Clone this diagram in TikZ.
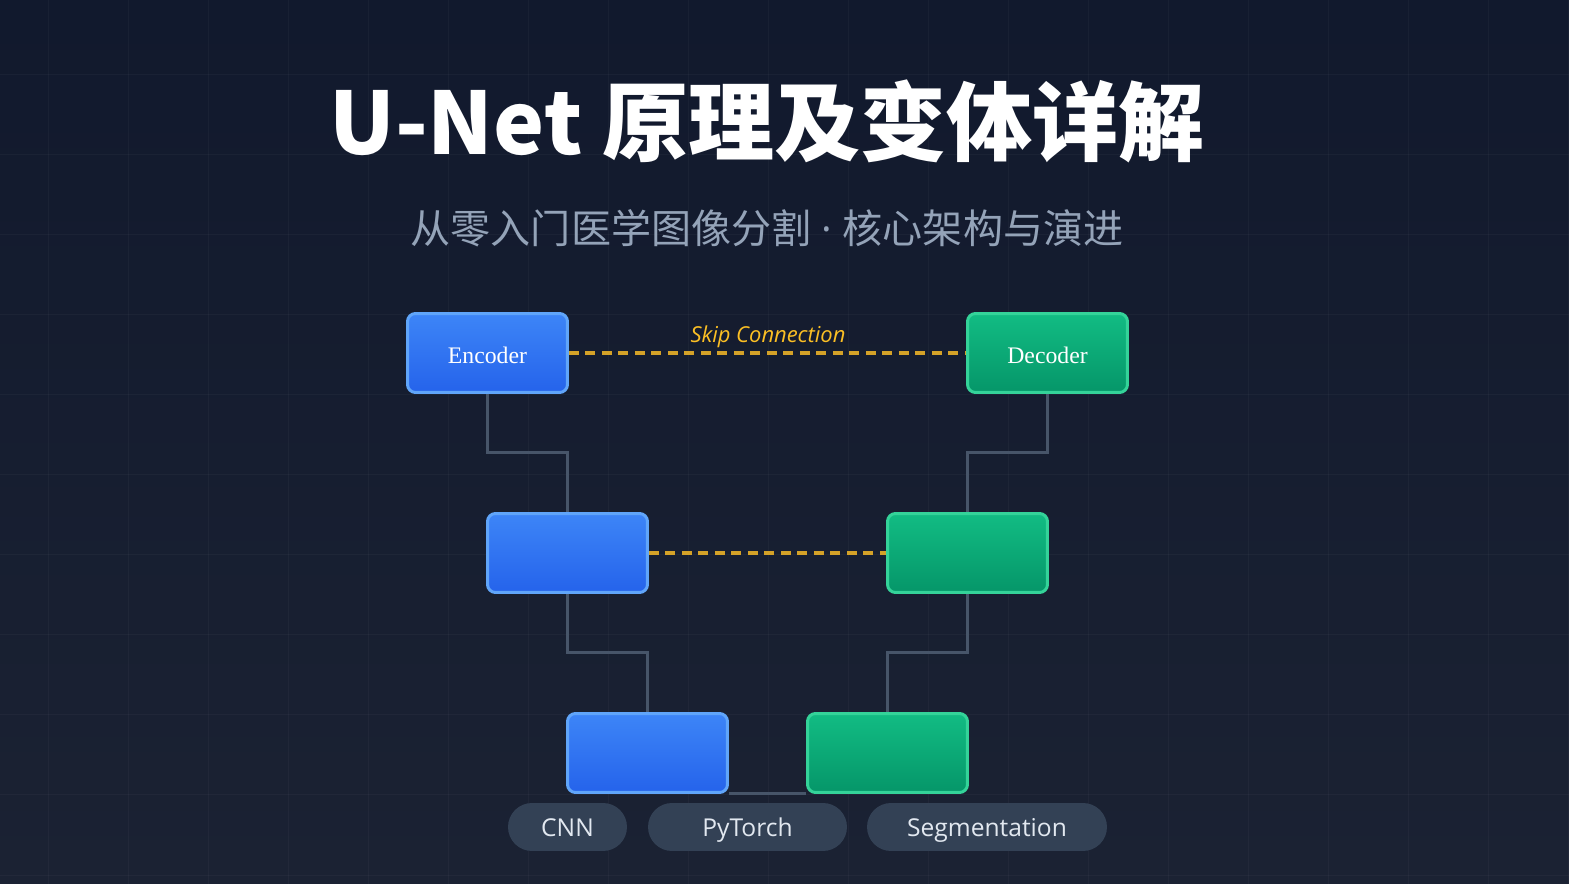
\documentclass[tikz,border=0pt]{standalone}
\usepackage{fontspec}
\setmainfont{Open Sans}
\newfontfamily\cjk{Noto Sans CJK SC}
\newfontfamily\blockfont{Liberation Serif}
\usepackage{tikz}
\usetikzlibrary{positioning}

\definecolor{bgtop}{RGB}{17,25,45}
\definecolor{bgbot}{RGB}{27,34,51}
\definecolor{enctop}{RGB}{61,133,247}
\definecolor{encbot}{RGB}{37,99,235}
\definecolor{encedge}{RGB}{96,165,250}
\definecolor{dectop}{RGB}{18,188,131}
\definecolor{decbot}{RGB}{5,150,105}
\definecolor{decedge}{RGB}{52,211,153}
\definecolor{linkgray}{RGB}{71,85,105}
\definecolor{skipgold}{RGB}{212,162,40}
\definecolor{skiptext}{RGB}{251,191,36}
\definecolor{subgray}{RGB}{148,163,184}
\definecolor{pillfill}{RGB}{51,65,85}
\definecolor{pilltext}{RGB}{226,232,240}

\tikzset{
  block/.style={rounded corners=0.16cm, line width=0.06cm, minimum width=3.2cm,
    minimum height=1.58cm, inner sep=0pt, text height=0.5cm, text depth=0.06cm,
    text=white, font=\blockfont\fontsize{13.5}{16}\selectfont},
  encblock/.style={block, draw=encedge, top color=enctop, bottom color=encbot},
  decblock/.style={block, draw=decedge, top color=dectop, bottom color=decbot},
  link/.style={draw=linkgray, line width=0.06cm},
  skipline/.style={draw=skipgold, line width=0.07cm, dash pattern=on 0.2cm off 0.13cm},
  tag/.style={rounded corners=0.48cm, fill=pillfill, text=pilltext, minimum height=0.96cm,
    inner sep=0pt, text height=0.5cm, text depth=0.1cm, font=\fontsize{14}{16}\selectfont},
}

\begin{document}
\begin{tikzpicture}[x=0.02cm, y=-0.02cm]
    \useasboundingbox (0,0) rectangle (1569,884);
    \shade [top color=bgtop, bottom color=bgbot] (0,0) rectangle (1569,884);
    \foreach \gx in {48,128,...,1568}
      \draw [white, opacity=0.03, line width=0.02cm] (\gx,0) -- (\gx,884);
    \foreach \gy in {75,155,...,875}
      \draw [white, opacity=0.03, line width=0.02cm] (0,\gy) -- (1569,\gy);

    \node [anchor=base, text=white, font=\cjk\bfseries\fontsize{49}{56}\selectfont]
      (title) at (767,155) {U-Net 原理及变体详解};
    \node [anchor=base, text=subgray, font=\cjk\fontsize{22.8}{26}\selectfont]
      (subtitle) at (767,244) {从零入门医学图像分割{\rmfamily{} · }核心架构与演进};

    % encoder side
    \node [encblock] (enc1) at (487.5,353) {Encoder};
    \node [encblock] (enc2) at (567.5,553) {};
    \node [encblock] (enc3) at (647.5,753) {};
    % decoder side
    \node [decblock] (dec1) at (1047.5,353) {Decoder};
    \node [decblock] (dec2) at (967.5,553) {};
    \node [decblock] (dec3) at (887.5,753) {};

    \draw [link] (enc1.south) -- ++(0,59) -| (enc2.north);
    \draw [link] (enc2.south) -- ++(0,59) -| (enc3.north);
    \draw [link] (dec1.south) -- ++(0,59) -| (dec2.north);
    \draw [link] (dec2.south) -- ++(0,59) -| (dec3.north);
    \draw [link] (enc3.south east) -- (dec3.south west);

    \draw [skipline] (enc1.east) -- (dec1.west);
    \draw [skipline] (enc2.east) -- (dec2.west);
    \node [anchor=base, text=skiptext, font=\itshape\fontsize{12.5}{15}\selectfont]
      (skiplabel) at (768,343) {Skip Connection};

    \node [tag, minimum width=2.38cm] (cnn) at (567.5,827) {CNN};
    \node [tag, minimum width=3.98cm] (torch) at (747.5,827) {PyTorch};
    \node [tag, minimum width=4.8cm] (seg) at (987,827) {Segmentation};
\end{tikzpicture}
\end{document}
